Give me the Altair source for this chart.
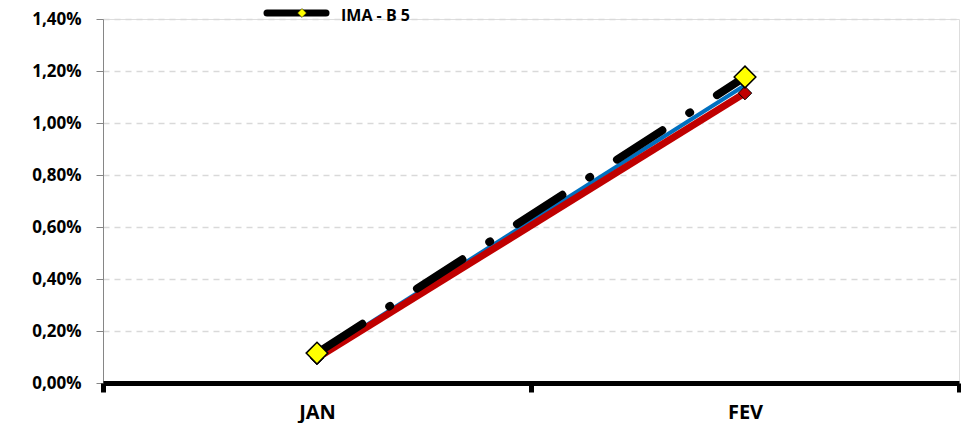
import altair as alt
import pandas as pd

months = ["JAN", "FEV"]
ima_b5 = [0.00115, 0.01177]
red_series = [0.00096, 0.01115]
blue_series = [0.00102, 0.01145]
y_ticks = [0.0, 0.002, 0.004, 0.006, 0.008, 0.010, 0.012, 0.014]
legend_label = "IMA - B 5"

FONT = "Open Sans"

rows = []
for name, vals in [("ima", ima_b5), ("red", red_series), ("blue", blue_series)]:
    for m, v in zip(months, vals):
        rows.append({"month": m, "series": name, "value": v})
df = pd.DataFrame(rows)

x_enc = alt.X(
    "month:N",
    sort=months,
    scale=alt.Scale(type="band", domain=months, paddingInner=0, paddingOuter=0),
    bandPosition=0.5,
    title=None,
    axis=alt.Axis(
        tickBand="extent",
        domainColor="#000000",
        domainWidth=5,
        tickColor="#000000",
        tickWidth=5,
        tickSize=9,
        labelFont=FONT,
        labelFontWeight="bold",
        labelFontSize=20,
        labelColor="#000000",
        labelPadding=10,
        labelAngle=0,
        grid=False,
        zindex=1,
    ),
)

y_enc = alt.Y(
    "value:Q",
    title=None,
    scale=alt.Scale(domain=[0, 0.014], nice=False, zero=True),
    axis=alt.Axis(
        values=y_ticks,
        labelExpr="replace(format(datum.value, '.2%'), '.', ',')",
        domainColor="#868686",
        domainWidth=1,
        tickColor="#868686",
        tickSize=7,
        labelFont=FONT,
        labelFontWeight="bold",
        labelFontSize=17,
        labelColor="#000000",
        labelPadding=15,
        gridColor="#d9d9d9",
        gridDash=[6, 5],
        gridWidth=1.5,
    ),
)

base = alt.Chart(df)

blue_line = base.transform_filter(alt.datum.series == "blue").mark_line(
    color="#0070C0", strokeWidth=4)
red_line = base.transform_filter(alt.datum.series == "red").mark_line(
    color="#C00000", strokeWidth=7)
red_pts = base.transform_filter(alt.datum.series == "red").mark_point(
    shape="diamond", filled=True, fill="#C00000", stroke="#000000",
    strokeWidth=1, size=180, opacity=1)
black_line = base.transform_filter(alt.datum.series == "ima").mark_line(
    color="#000000", strokeWidth=8, strokeCap="round", strokeDash=[54, 32, 1, 32])
yellow_pts = base.transform_filter(alt.datum.series == "ima").mark_point(
    shape="diamond", filled=True, fill="#FFFF00", stroke="#000000",
    strokeWidth=1.5, size=470, opacity=1)

data_layers = alt.layer(blue_line, red_line, red_pts, black_line, yellow_pts).encode(
    x=x_enc, y=y_enc)

leg_df = pd.DataFrame({"label": [legend_label]})
leg_base = alt.Chart(leg_df)
leg_line = leg_base.mark_rule(color="#000000", strokeWidth=7, strokeCap="round").encode(
    x=alt.value(164), x2=alt.value(223), y=alt.value(-6))
leg_pt = leg_base.mark_point(shape="diamond", filled=True, fill="#FFFF00", stroke="#000000",
                             strokeWidth=0.5, size=80, opacity=1).encode(
    x=alt.value(199), y=alt.value(-6))
leg_text = leg_base.mark_text(align="left", baseline="middle", font=FONT, fontWeight="bold",
                              fontSize=16, color="#000000").encode(
    text="label:N", x=alt.value(238), y=alt.value(-3))

chart = alt.layer(
    data_layers, leg_line, leg_pt, leg_text
).properties(
    width=856,
    height=364,
    autosize=alt.AutoSizeParams(type="none"),
    padding={"left": 95, "top": 11, "right": 2, "bottom": 40},
).configure_view(stroke=None).configure(background="#ffffff")

chart.save("out.html", embed_options={"renderer": "svg", "actions": False})
